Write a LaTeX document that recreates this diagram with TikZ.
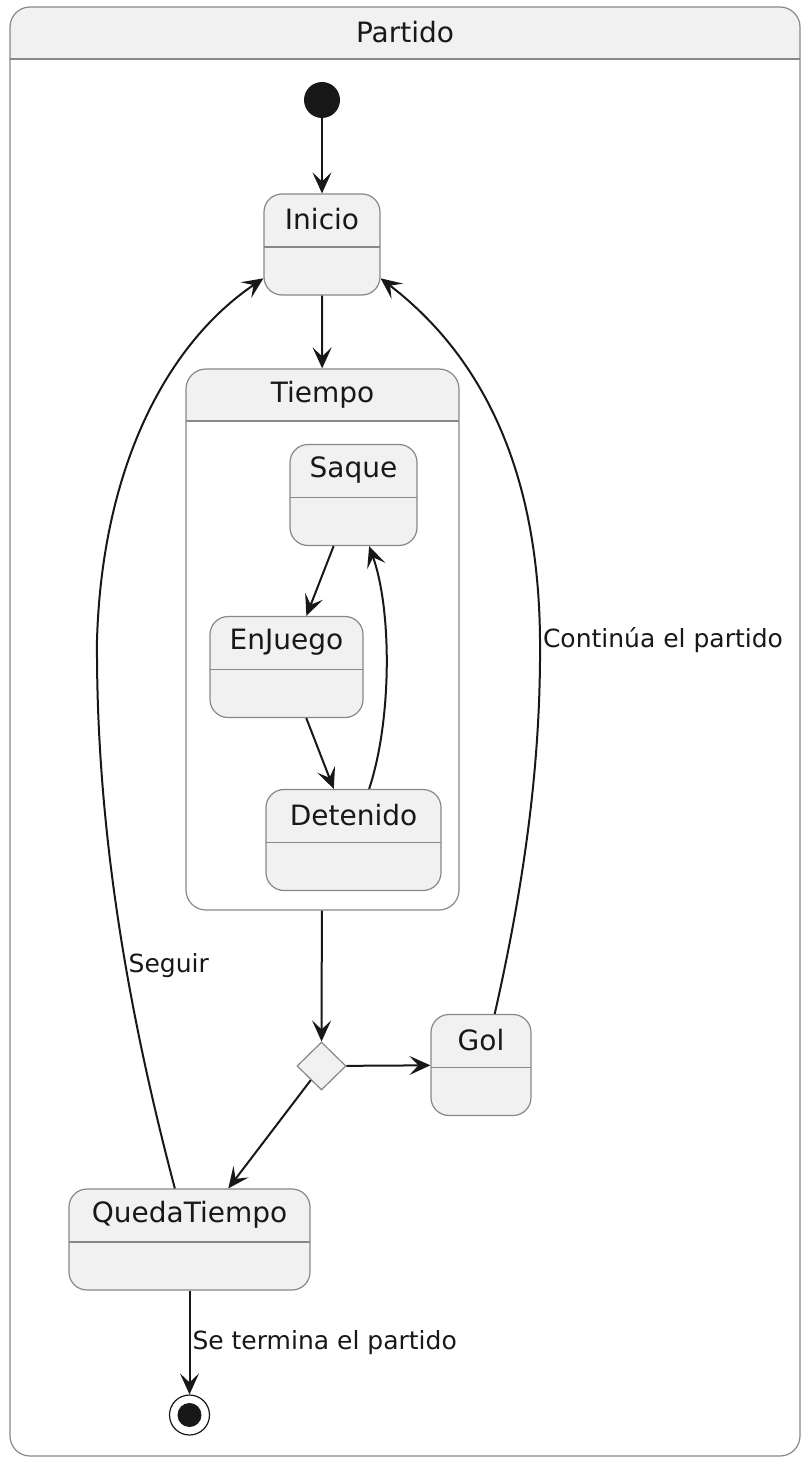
\documentclass[tikz,border=0pt]{standalone}
\usepackage{fontspec}
\setmainfont{DejaVu Sans}
\usetikzlibrary{arrows.meta,shapes.geometric}

\definecolor{statefill}{HTML}{F1F1F1}
\definecolor{linegray}{HTML}{888888}
\definecolor{ink}{HTML}{181818}

\tikzset{
  statebox/.style={draw=linegray, fill=statefill, line width=1.2pt, rounded corners=18pt,
    inner sep=0pt, minimum height=101pt,
    path picture={\draw[linegray, line width=1.2pt]
      ([yshift=-53pt]path picture bounding box.north west) --
      ([yshift=-53pt]path picture bounding box.north east);}},
  compbox/.style={draw=linegray, fill=white, line width=1.2pt, rounded corners=20pt, inner sep=0pt,
    path picture={\fill[statefill, sharp corners] (path picture bounding box.north west) rectangle
      ([yshift=-52pt]path picture bounding box.north east);
      \draw[linegray, line width=1.2pt, sharp corners]
      ([yshift=-52pt]path picture bounding box.north west) --
      ([yshift=-52pt]path picture bounding box.north east);}},
  statename/.style={anchor=center, yshift=-26pt, font=\fontsize{28}{32}\selectfont, text=ink},
  trans/.style={draw=ink, line width=2pt, -{Stealth[length=21pt, width=19pt, inset=9pt]}},
  lbl/.style={font=\fontsize{25}{30}\selectfont, text=ink, inner sep=2pt},
}

\begin{document}
\begin{tikzpicture}[x=1pt, y=-1pt]

      \useasboundingbox (0,0) rectangle (810,1466);

      % composite states
      \node[compbox, minimum width=790pt, minimum height=1449pt,
        label={[statename]north:Partido}] (partido) at (405,731.5) {};
      \node[compbox, minimum width=273pt, minimum height=541pt,
        label={[statename]north:Tiempo}] (tiempo) at (322.5,639.5) {};

      % simple states
      \node[circle, fill=ink, minimum size=36pt, inner sep=0pt] (start) at (322,100) {};
      \node[statebox, minimum width=116pt, label={[statename]north:Inicio}] (inicio) at (322,244.5) {};
      \node[statebox, minimum width=127pt, label={[statename]north:Saque}] (saque) at (353.5,495) {};
      \node[statebox, minimum width=153pt, label={[statename]north:EnJuego}] (enjuego) at (286.5,667) {};
      \node[statebox, minimum width=175pt, label={[statename]north:Detenido}] (detenido) at (353.5,840) {};
      \node[diamond, draw=linegray, fill=statefill, line width=1.2pt, minimum width=49pt,
        minimum height=48pt, inner sep=0pt] (choice) at (321.5,1066) {};
      \node[statebox, minimum width=100pt, label={[statename]north:Gol}] (gol) at (481,1065) {};
      \node[statebox, minimum width=241pt, label={[statename]north:QuedaTiempo}] (queda) at (189.5,1239.5) {};
      \node[circle, draw=ink, fill=white, line width=1.2pt, minimum size=40pt, inner sep=0pt,
        path picture={\fill[ink] (path picture bounding box.center) circle (12pt);}] (final) at (189.5,1415) {};

      % transitions
      \draw[trans] (start) -- (inicio);
      \draw[trans] (inicio) -- (tiempo);
      \draw[trans] (saque) -- (enjuego);
      \draw[trans] (enjuego) -- (detenido);
      \draw[trans] (detenido.73.8) .. controls (392,720) and (392,610) .. (saque.-73.8);
      \draw[trans] (tiempo) -- (choice);
      \draw[trans] (choice) -- (gol);
      \draw[trans] (choice) -- (queda);
      \draw[trans] (queda) -- node[lbl, right] {Se termina el partido} (final);
      \draw[trans] (gol.75) .. controls (525,880) and (541,760) .. (540,640)
        node[lbl, right] {Continúa el partido}
        .. controls (539,500) and (500,370) .. (inicio.-30);
      \draw[trans] (queda.106) .. controls (125,1000) and (96,820) ..
        node[lbl, pos=0.4, right] {Seguir} (97,640)
        .. controls (102,470) and (165,345) .. (inicio.210);

\end{tikzpicture}
\end{document}
